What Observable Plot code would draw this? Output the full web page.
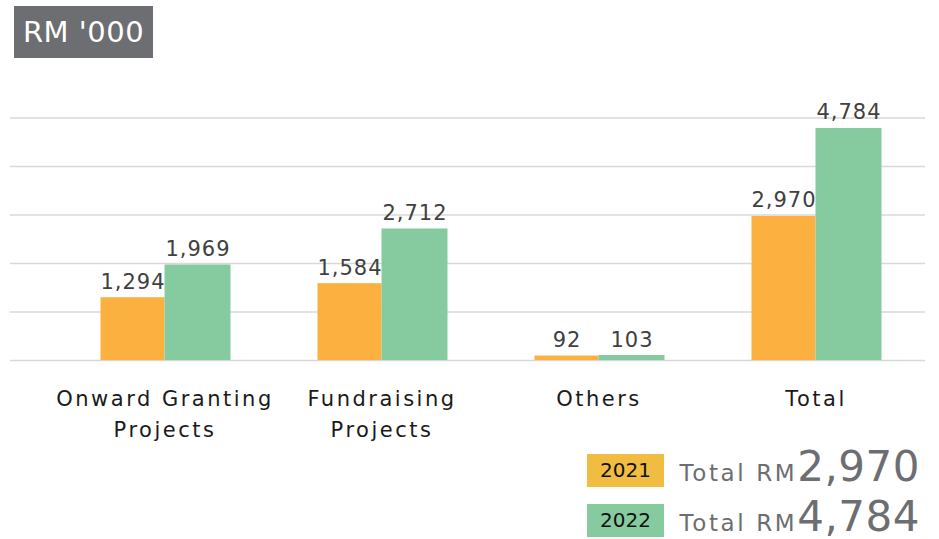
<!DOCTYPE html>
<html>
<head>
<meta charset="utf-8">
<script src="https://cdn.jsdelivr.net/npm/d3@7"></script>
<script src="https://cdn.jsdelivr.net/npm/@observablehq/plot@0.6"></script>
<style>
  html, body { margin: 0; padding: 0; background: #fff; }
  body { width: 939px; height: 539px; overflow: hidden; font-family: "DejaVu Sans", sans-serif; }
  #title { height: 60px; position: relative; }
  #title span { position: absolute; left: 14px; top: 6px; width: 139px; height: 52px; background: #6d6e71; color: #fff;
    font-size: 29px; letter-spacing: 0.5px; line-height: 52px; text-align: center; }
  #chart svg { display: block; }
  #legend { height: 94px; position: relative; }
  .row { position: absolute; left: 587px; width: 333px; height: 33px; display: flex; align-items: center; justify-content: space-between; }
  .box { width: 77px; height: 33px; font-size: 20px; color: #111; text-align: center; line-height: 33px; }
  .tot { color: #6d6e71; font-size: 23px; letter-spacing: 2.6px; white-space: nowrap; line-height: 0.8; margin-top: -8px; }
  .tot b { font-size: 42px; font-weight: normal; letter-spacing: 0.5px; line-height: 0.8; }
</style>
</head>
<body>
<div id="title"><span>RM '000</span></div>
<div id="chart"></div>
<div id="legend"></div>
<script>
const categories = ["Onward Granting Projects", "Fundraising Projects", "Others", "Total"];
const tickLabels = ["Onward Granting\nProjects", "Fundraising\nProjects", "Others", "Total"];
const years = ["2021", "2022"];
const values2021 = [1294, 1584, 92, 2970];
const values2022 = [1969, 2712, 103, 4784];
const totals = [2970, 4784];
const yTicks = [0, 1000, 2000, 3000, 4000, 5000];
const barColors = ["#fbb040", "#86cb9f"];
const legendColors = ["#f0bc42", "#86cb9f"];

const d21 = categories.map((c, i) => ({category: c, value: values2021[i]}));
const d22 = categories.map((c, i) => ({category: c, value: values2022[i]}));
const ticks = categories.map((c, i) => ({category: c, label: tickLabels[i]}));
const fmt = d3.format(",");

const chart = Plot.plot({
  width: 939,
  height: 385,
  marginTop: 57.5,
  marginBottom: 85,
  marginLeft: 10,
  marginRight: 14,
  style: {fontFamily: "DejaVu Sans, sans-serif", background: "#fff"},
  x: {domain: categories, range: [55.5, 923.5], padding: 0, axis: null},
  y: {domain: [0, 5000], axis: null},
  marks: [
    Plot.ruleY(yTicks, {stroke: "#d9d9d9", strokeWidth: 1.3}),
    Plot.barY(d21, {x: "category", y: "value", fill: barColors[0], insetLeft: 44.5, insetRight: 108.5}),
    Plot.barY(d22, {x: "category", y: "value", fill: barColors[1], insetLeft: 108.5, insetRight: 42.5}),
    Plot.text(d21, {x: "category", y: "value", text: d => fmt(d.value), dx: -32, dy: -9, lineAnchor: "bottom", fontSize: 21, fill: "#404040"}),
    Plot.text(d22, {x: "category", y: "value", text: d => fmt(d.value), dx: 33, dy: -9, lineAnchor: "bottom", fontSize: 21, fill: "#404040"}),
    Plot.text(ticks, {x: "category", y: 0, text: "label", dy: 24, lineAnchor: "top", lineHeight: 1.45, fontSize: 21, fill: "#1a1a1a"})
  ]
});
const textGroups = chart.querySelectorAll('g[aria-label="text"]');
textGroups.forEach((g, i) => {
  g.style.letterSpacing = i === textGroups.length - 1 ? "2.5px" : "1px";
});
document.getElementById("chart").appendChild(chart);

const legend = document.getElementById("legend");
years.forEach((y, i) => {
  const row = document.createElement("div");
  row.className = "row";
  row.style.top = (9 + i * 50) + "px";
  const box = document.createElement("div");
  box.className = "box";
  box.style.background = legendColors[i];
  box.textContent = y;
  const tot = document.createElement("div");
  tot.className = "tot";
  tot.innerHTML = "Total RM<b>" + fmt(totals[i]) + "</b>";
  row.appendChild(box);
  row.appendChild(tot);
  legend.appendChild(row);
});
</script>
</body>
</html>
